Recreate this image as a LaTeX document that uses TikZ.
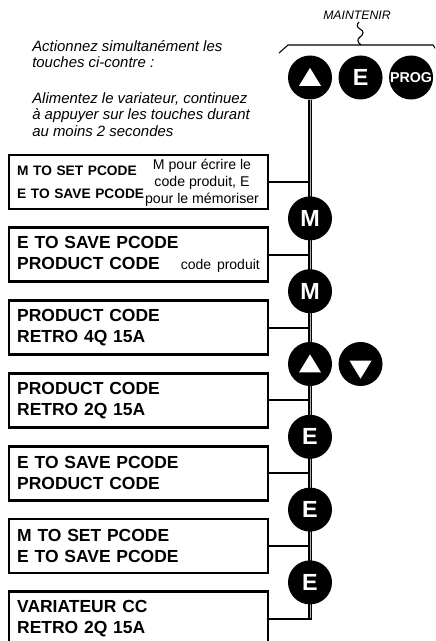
\documentclass[tikz,border=0pt]{standalone}
\usepackage{fontspec}
\setmainfont{Liberation Sans}
\usetikzlibrary{positioning, calc, backgrounds}

\begin{document}
\begin{tikzpicture}[
      x=0.75pt, y=-0.75pt,
      node distance=12.1pt and 4.5pt,
      screen/.style={rectangle, draw, line width=2pt, text width=182pt, inner xsep=6.1pt, minimum height=40.5pt, align=left, font=\bfseries\fontsize{13.1}{15.75}\selectfont},
      key/.style={circle, fill=black, minimum size=33pt, inner sep=0pt, text=white, font=\bfseries\fontsize{17.5}{17.5}\selectfont},
      upkey/.style={key, path picture={\fill[white] ([xshift=-8.25pt,yshift=-6.3pt]path picture bounding box.center) -- ++(16.5pt,0pt) -- ++(-8.25pt,13.5pt) -- cycle;}},
      downkey/.style={key, path picture={\fill[white] ([xshift=-8.25pt,yshift=2.5pt]path picture bounding box.center) -- ++(16.5pt,0pt) -- ++(-8.25pt,-13.5pt) -- cycle;}},
      note/.style={align=center, inner sep=0pt, font=\fontsize{10.6}{12.6}\selectfont},
      hint/.style={align=left, inner sep=0pt, font=\itshape\fontsize{11.2}{12.4}\selectfont},
      link/.style={line width=1.4pt},
      rail/.style={line width=1.15pt, double=black!30, double distance=0.6pt}
    ]
    \useasboundingbox (0,0) rectangle (435,641);
    \clip (0,0) rectangle (435,641);

    % instructions on the left
    \node[hint, anchor=north west] (hold) at (32,40) {Actionnez simultanément les\\touches ci-contre :};
    \node[hint, anchor=north west] (power) at (32,92) {Alimentez le variateur, continuez\\à appuyer sur les touches durant\\au moins 2 secondes};

    % keys held at power up
    \node[upkey] (up1) at (310,77.5) {};
    \node[key, right=of up1] (enter1) {E};
    \node[key, right=of enter1, font=\bfseries\fontsize{10.7}{10.7}\selectfont] (prog) {PROG};
    \node[font=\itshape\fontsize{9.2}{9.2}\selectfont, anchor=base] (maintain) at (357,20) {MAINTENIR};
    \draw[line width=0.8pt] (279,53) -- (288,45) -- (433,45) -- (437,51);
    \draw[line width=0.8pt] (361,45) .. controls (357,42) and (357,39) .. (360,37) .. controls (364,34) and (364,31) .. (360,29) .. controls (356,27) and (357,24) .. (359,22);

    % display screens
    \node[screen, font=\bfseries\fontsize{10.3}{17.3}\selectfont] (s1) at (138.5,182) {M TO SET PCODE\\E TO SAVE PCODE};
    \node[note, anchor=north] (n1) at (202,159) {M pour écrire le\\code produit, E\\pour le mémoriser};
    \node[screen, below=of s1] (s2) {E TO SAVE PCODE\\PRODUCT CODE\hfill{\mdseries\fontsize{10.5}{12.6}\selectfont\mbox{code produit}}};
    \node[screen, below=of s2] (s3) {PRODUCT CODE\\RETRO 4Q 15A};
    \node[screen, below=of s3] (s4) {PRODUCT CODE\\RETRO 2Q 15A};
    \node[screen, below=of s4] (s5) {E TO SAVE PCODE\\PRODUCT CODE};
    \node[screen, below=of s5] (s6) {M TO SET PCODE\\E TO SAVE PCODE};
    \node[screen, below=of s6] (s7) {VARIATEUR CC\\RETRO 2Q 15A};

    % keys between screens
    \coordinate (g1) at ($(s1.east)!0.5!(s2.east)$);
    \coordinate (g2) at ($(s2.east)!0.5!(s3.east)$);
    \coordinate (g3) at ($(s3.east)!0.5!(s4.east)$);
    \coordinate (g4) at ($(s4.east)!0.5!(s5.east)$);
    \coordinate (g5) at ($(s5.east)!0.5!(s6.east)$);
    \coordinate (g6) at ($(s6.east)!0.5!(s7.east)$);
    \node[key] (m1) at (up1 |- g1) {M};
    \node[key] (m2) at (up1 |- g2) {M};
    \node[upkey] (up2) at (up1 |- g3) {};
    \node[downkey, right=of up2] (down2) {};
    \node[key] (e1) at (up1 |- g4) {E};
    \node[key] (e2) at (up1 |- g5) {E};
    \node[key] (e3) at (up1 |- g6) {E};
    \coordinate (bend) at (up1 |- s7.east);

    \begin{scope}[on background layer]
      \draw[rail] (up1) -- (bend);
      \draw[link] (s1.east) -- (s1.east -| up1);
      \draw[link] (s2.east) -- (s2.east -| up1);
      \draw[link] (s3.east) -- (s3.east -| up1);
      \draw[link] (s4.east) -- (s4.east -| up1);
      \draw[link] (s5.east) -- (s5.east -| up1);
      \draw[link] (s6.east) -- (s6.east -| up1);
      \draw[link] (s7.east) -- ([xshift=1.5pt]bend);
    \end{scope}
  \end{tikzpicture}
\end{document}
